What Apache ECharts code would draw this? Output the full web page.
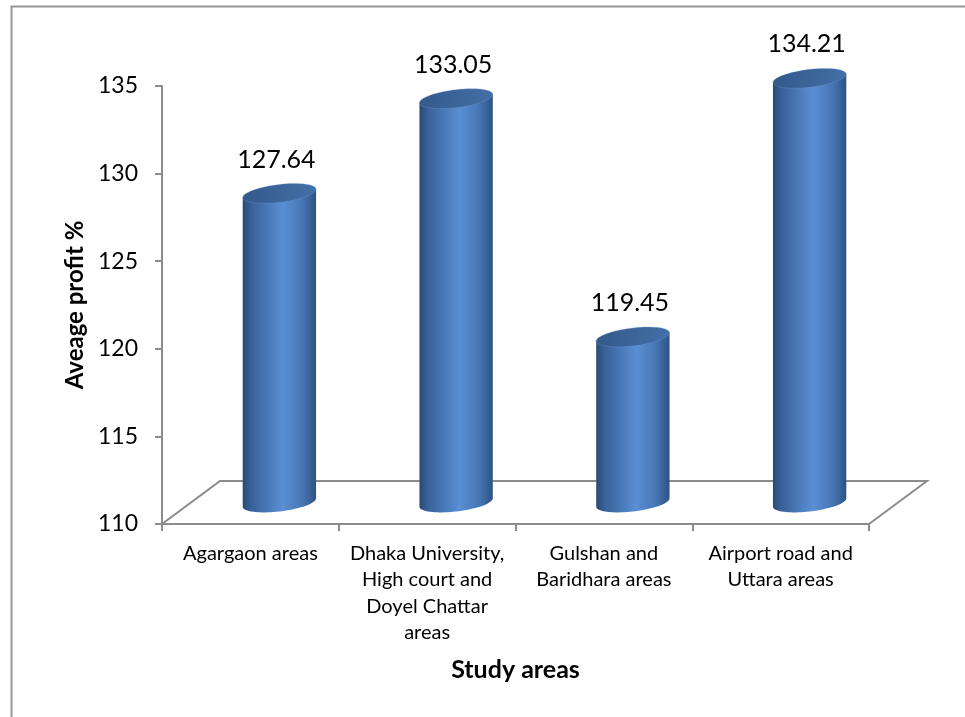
<!DOCTYPE html>
<html>
<head>
<meta charset="utf-8">
<script src="https://cdn.jsdelivr.net/npm/echarts@6/dist/echarts.min.js"></script>
<style>html,body{margin:0;padding:0;background:#fff;}#c{width:965px;height:717px;}</style>
</head>
<body>
<div id="c"></div>
<script>
var categories = ['Agargaon areas', 'Dhaka University,\nHigh court and\nDoyel Chattar\nareas', 'Gulshan and\nBaridhara areas', 'Airport road and\nUttara areas'];
var values = [127.64, 133.05, 119.45, 134.21];
var yMin = 110, yMax = 135, yStep = 5;
var xTitle = 'Study areas';
var yTitle = 'Aveage profit %';

var DX = 58, DY = -43;   // floor depth offset (style)
var FONT = 'Lato, "Open Sans", sans-serif';
var AXIS_COLOR = '#8c8c8c';

var chart = echarts.init(document.getElementById('c'));

function renderFloor(params, api) {
  var cs = params.coordSys;
  var x0 = cs.x, x1 = cs.x + cs.width, yb = cs.y + cs.height;
  return {
    type: 'polyline',
    shape: { points: [[x0, yb], [x0 + DX, yb + DY], [x1 + DX, yb + DY], [x1, yb]] },
    style: { stroke: AXIS_COLOR, lineWidth: 2, fill: null }
  };
}

function renderBar(params, api) {
  var i = api.value(0), v = api.value(1);
  var base = api.coord([i, yMin]);
  var top = api.coord([i, v]);
  var bw = api.size([1, 0])[0] * 0.415;
  var rx = bw / 2, ry = 9, k = 0.114;
  var cx = base[0] + DX / 2, by = base[1] + DY / 2, ty = top[1] + DY / 2;
  function ell(cy, t) { var x = rx * Math.cos(t); return [cx + x, cy + ry * Math.sin(t) - k * x]; }
  var body = [ell(ty, Math.PI), ell(ty, 0)];
  for (var j = 0; j <= 40; j++) body.push(ell(by, Math.PI * j / 40));
  var topPts = [];
  for (var m = 0; m < 64; m++) topPts.push(ell(ty, 2 * Math.PI * m / 64));
  var bodyGrad = new echarts.graphic.LinearGradient(0, 0, 1, 0, [
    { offset: 0, color: '#2b4a73' },
    { offset: 0.12, color: '#38629a' },
    { offset: 0.55, color: '#5a8fd3' },
    { offset: 0.82, color: '#4675b4' },
    { offset: 1, color: '#2d5282' }
  ]);
  var topGrad = new echarts.graphic.LinearGradient(0, 0, 1, 0, [
    { offset: 0, color: '#34598a' },
    { offset: 1, color: '#4270a8' }
  ]);
  return {
    type: 'group',
    children: [
      { type: 'polygon', shape: { points: body }, style: { fill: bodyGrad } },
      { type: 'polygon', shape: { points: topPts }, style: { fill: topGrad, stroke: 'rgba(120,160,210,0.5)', lineWidth: 0.6 } },
      { type: 'text', style: { text: v.toFixed(2), x: cx - 3, y: ty - 34, align: 'center', verticalAlign: 'middle', fontSize: 25, fontFamily: FONT, fill: '#000' } }
    ]
  };
}

chart.setOption({
  backgroundColor: '#fff',
  animation: false,
  graphic: [{
    type: 'rect', left: 9, top: 4, z: -10,
    shape: { x: 0, y: 0, width: 1000, height: 800 },
    style: { fill: null, stroke: '#969696', lineWidth: 2 }
  }],
  grid: { left: 162, right: 96, top: 86, bottom: 193 },
  xAxis: {
    type: 'category',
    data: categories,
    axisLine: { lineStyle: { color: AXIS_COLOR, width: 2 } },
    axisTick: { show: true, length: 7, lineStyle: { color: AXIS_COLOR, width: 2 } },
    axisLabel: { fontSize: 20, fontFamily: FONT, color: '#000', lineHeight: 26.5, margin: 16, interval: 0 },
    name: xTitle, nameLocation: 'middle', nameGap: 133,
    nameTextStyle: { fontSize: 25, fontWeight: 'bold', fontFamily: FONT, color: '#000' }
  },
  yAxis: {
    type: 'value', min: yMin, max: yMax, interval: yStep,
    axisLine: { show: true, lineStyle: { color: AXIS_COLOR, width: 2 } },
    axisTick: { show: true, length: 7, lineStyle: { color: AXIS_COLOR, width: 2 } },
    splitLine: { show: false },
    axisLabel: { fontSize: 23, fontFamily: FONT, color: '#000', margin: 24 },
    name: yTitle, nameLocation: 'middle', nameGap: 66,
    nameTextStyle: { fontSize: 24, fontWeight: 'bold', fontFamily: FONT, color: '#000' }
  },
  series: [
    { type: 'custom', z: 1, renderItem: renderFloor, data: [[0]], silent: true },
    { type: 'custom', z: 2, renderItem: renderBar, data: values.map(function (v, i) { return [i, v]; }) }
  ]
});
</script>
</body>
</html>
